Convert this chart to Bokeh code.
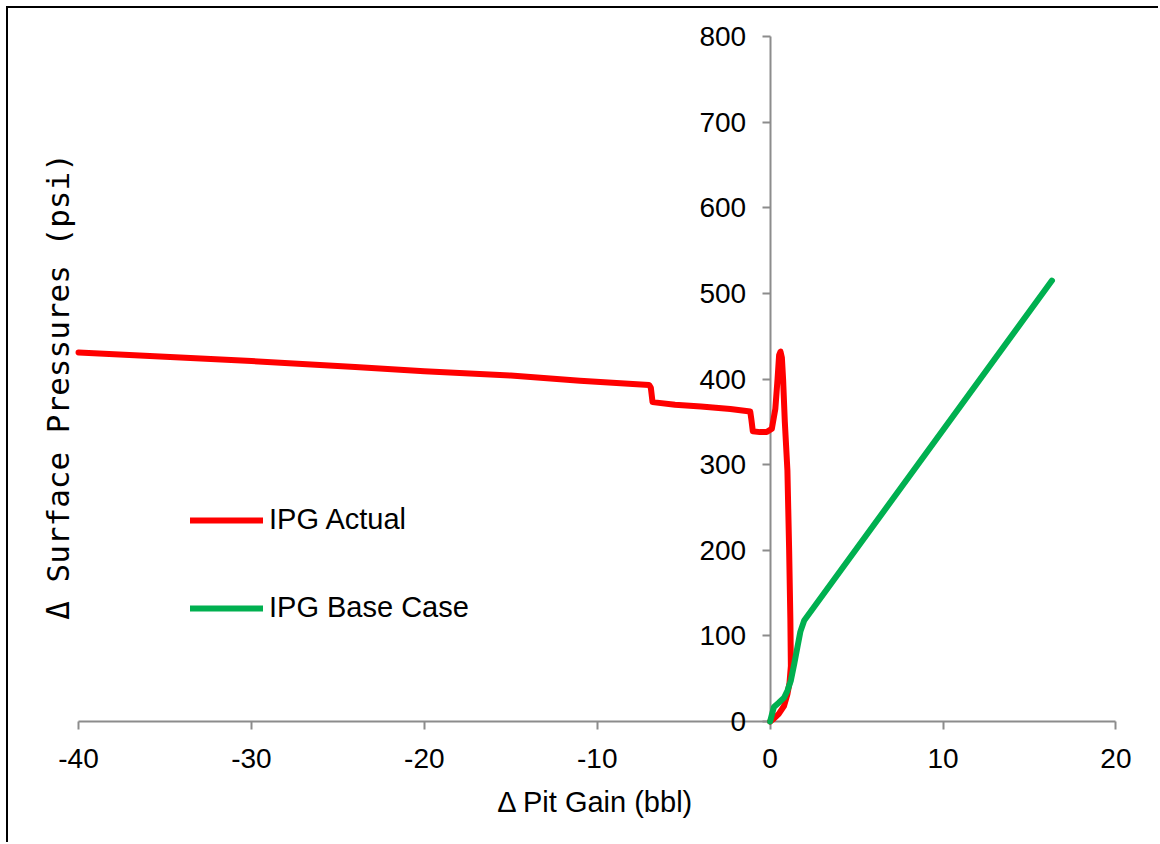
import math

from bokeh.plotting import figure
from bokeh.models import Range1d, LinearAxis, FixedTicker, Legend, LegendItem, Label
from bokeh.embed import file_html
from bokeh.resources import INLINE

# IPG Actual: pit gain (bbl) vs surface pressure change (psi), in time order
pit_gain_actual = [0.0, 0.2, 0.5, 0.8, 1.0, 1.12, 1.2, 1.17, 1.1, 1.0, 0.85, 0.75,
                   0.68, 0.6, 0.52, 0.43, 0.3, 0.1, -0.2, -0.6, -1.0, -1.08, -1.15,
                   -2.3, -4.0, -5.5, -6.8, -6.9, -7.0, -11.0, -15.0, -20.0, -24.0,
                   -30.0, -35.0, -40.0]
pressure_actual = [0, 3, 9, 18, 32, 45, 65, 120, 200, 293, 350, 400,
                   425, 432, 428, 400, 365, 342, 338, 338, 339, 352, 362,
                   365, 368, 370, 373, 390, 393, 398, 404, 409, 414,
                   421, 426, 431]

# IPG Base Case
pit_gain_base = [0.0, 0.1, 0.22, 0.5, 0.81, 1.0, 1.2, 1.4, 1.58, 1.75, 1.97, 16.3]
pressure_base = [0, 8, 17, 22, 28, 36, 48, 68, 87, 105, 118, 515]

x_ticks = [-40, -30, -20, -10, 0, 10, 20]
x_tick_labels = ["-40", "-30", "-20", "-10", "0", "10", "20"]
y_ticks = [0, 100, 200, 300, 400, 500, 600, 700, 800]
y_tick_labels = ["0", "100", "200", "300", "400", "500", "600", "700", "800"]

X_BOUNDS = (-40, 20)
Y_BOUNDS = (0, 800)

FONT = "Liberation Sans"
TICK_SIZE = "28px"
TITLE_SIZE = "29px"
AXIS_GREY = "#8c8c8c"

# the frame is padded around the axis bounds so that the crossing axes and
# their labels all sit inside it
p = figure(width=1152, height=836,
           x_range=Range1d(-42.2, 22.0), y_range=Range1d(-71.2, 818.7),
           x_axis_type=None, y_axis_type=None,
           output_backend="svg", toolbar_location=None,
           min_border_left=32, min_border_right=10,
           min_border_top=12, min_border_bottom=62)
p.outline_line_color = None
p.background_fill_color = "white"
p.border_fill_color = "white"
p.styles = {"margin-left": "6px", "margin-top": "6px",
            "border-left": "2px solid #000000", "border-top": "2px solid #000000"}


def style_axis(ax):
    ax.axis_line_color = AXIS_GREY
    ax.axis_line_width = 2
    ax.major_tick_line_color = AXIS_GREY
    ax.major_tick_line_width = 2
    ax.major_tick_out = 8
    ax.major_tick_in = 0
    ax.minor_tick_line_color = None
    ax.major_label_text_font = FONT
    ax.major_label_text_font_size = TICK_SIZE
    ax.major_label_text_color = "#000000"
    ax.axis_label_text_font = FONT
    ax.axis_label_text_font_size = TITLE_SIZE
    ax.axis_label_text_font_style = "normal"
    ax.axis_label_text_color = "#000000"
    ax.level = "underlay"


# horizontal axis along zero pressure
xaxis = LinearAxis(ticker=FixedTicker(ticks=x_ticks),
                   major_label_overrides=dict(zip(x_ticks, x_tick_labels)),
                   fixed_location=0, bounds=X_BOUNDS)
style_axis(xaxis)
xaxis.major_label_standoff = 19
p.add_layout(xaxis, "below")

# vertical axis crossing at zero pit gain
yaxis = LinearAxis(ticker=FixedTicker(ticks=y_ticks),
                   major_label_overrides=dict(zip(y_ticks, y_tick_labels)),
                   fixed_location=0, bounds=Y_BOUNDS)
style_axis(yaxis)
yaxis.major_label_standoff = 16
p.add_layout(yaxis, "left")

# horizontal axis title, under the frame
xtitle = LinearAxis(ticker=FixedTicker(ticks=[]), bounds=X_BOUNDS,
                    axis_label="Δ Pit Gain (bbl)")
style_axis(xtitle)
xtitle.axis_line_color = None
xtitle.major_tick_out = 0
xtitle.axis_label_standoff = 3
xtitle.level = "guide"
p.add_layout(xtitle, "below")

# vertical axis title along the left edge, set with wide letter spacing
ytitle = Label(x=17, y=396, x_units="screen", y_units="screen",
               text="Δ Surface Pressures (psi)", angle=math.pi / 2,
               text_align="center", text_baseline="middle",
               text_font="DejaVu Sans Mono", text_font_size="31px",
               text_color="#000000")
p.add_layout(ytitle)

r_act = p.line(pit_gain_actual, pressure_actual, line_color="#FF0000", line_width=6,
               line_join="round", line_cap="round")
r_base = p.line(pit_gain_base, pressure_base, line_color="#00B050", line_width=6,
                line_join="round", line_cap="round")

legend = Legend(items=[LegendItem(label="IPG Actual", renderers=[r_act]),
                       LegendItem(label="IPG Base Case", renderers=[r_base])],
                location=(150, 158), orientation="vertical",
                label_text_font=FONT, label_text_font_size=TITLE_SIZE,
                label_text_color="#000000",
                glyph_width=73, glyph_height=30, label_height=30,
                label_standoff=6, spacing=55, padding=0, margin=0,
                border_line_alpha=0, background_fill_alpha=0)
p.add_layout(legend)

open("out.html", "w").write(file_html(p, INLINE))
